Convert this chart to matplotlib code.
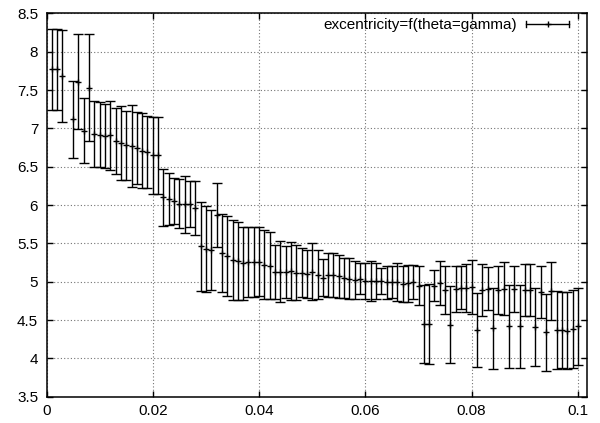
import matplotlib
matplotlib.use("Agg")
import matplotlib.pyplot as plt
from matplotlib.lines import Line2D
from matplotlib.legend_handler import HandlerBase
from matplotlib.container import ErrorbarContainer

# ---- data ----
x_vals = [0.001, 0.002, 0.003, 0.005, 0.006, 0.007, 0.008, 0.009, 0.010,
          0.011, 0.012, 0.013, 0.014, 0.015, 0.016, 0.017, 0.018, 0.019, 0.020,
          0.021, 0.022, 0.023, 0.024, 0.025, 0.026, 0.027, 0.028, 0.029, 0.030,
          0.031, 0.032, 0.033, 0.034, 0.035, 0.036, 0.037, 0.038, 0.039, 0.040,
          0.041, 0.042, 0.043, 0.044, 0.045, 0.046, 0.047, 0.048, 0.049, 0.050,
          0.051, 0.052, 0.053, 0.054, 0.055, 0.056, 0.057, 0.058, 0.059, 0.060,
          0.061, 0.062, 0.063, 0.064, 0.065, 0.066, 0.067, 0.068, 0.069, 0.070,
          0.071, 0.072, 0.073, 0.074, 0.075, 0.076, 0.077, 0.078, 0.079, 0.080,
          0.081, 0.082, 0.083, 0.084, 0.085, 0.086, 0.087, 0.088, 0.089, 0.090,
          0.091, 0.092, 0.093, 0.094, 0.095, 0.096, 0.097, 0.098, 0.099, 0.100]

excentricity = [7.77, 7.77, 7.68, 7.12, 7.61, 6.97, 7.53, 6.93, 6.92,
                6.90, 6.91, 6.83, 6.81, 6.78, 6.77, 6.74, 6.71, 6.69, 6.65,
                6.65, 6.10, 6.08, 6.05, 6.02, 6.01, 6.01, 5.96, 5.46, 5.43,
                5.41, 5.87, 5.37, 5.34, 5.28, 5.27, 5.24, 5.26, 5.26, 5.26,
                5.22, 5.21, 5.13, 5.13, 5.13, 5.14, 5.12, 5.12, 5.10, 5.13,
                5.09, 5.05, 5.09, 5.09, 5.07, 5.05, 5.04, 5.02, 5.04, 5.01,
                5.01, 5.01, 5.01, 4.99, 5.00, 5.00, 4.97, 4.98, 5.00, 4.95,
                4.45, 4.45, 4.95, 4.98, 4.89, 4.44, 4.90, 4.92, 4.92, 4.93,
                4.37, 4.89, 4.91, 4.39, 4.89, 4.91, 4.42, 4.90, 4.42, 4.89,
                4.89, 4.41, 4.87, 4.34, 4.88, 4.37, 4.37, 4.36, 4.38, 4.42]

yerr_vals = [0.53, 0.53, 0.60, 0.50, 0.62, 0.42, 0.70, 0.43, 0.42,
             0.42, 0.45, 0.43, 0.48, 0.45, 0.53, 0.47, 0.49, 0.47, 0.50,
             0.50, 0.37, 0.34, 0.30, 0.32, 0.37, 0.30, 0.35, 0.58, 0.56,
             0.52, 0.42, 0.51, 0.52, 0.52, 0.51, 0.48, 0.46, 0.46, 0.45,
             0.45, 0.44, 0.35, 0.40, 0.34, 0.38, 0.36, 0.32, 0.31, 0.37,
             0.32, 0.24, 0.29, 0.29, 0.28, 0.26, 0.27, 0.25, 0.20, 0.24,
             0.26, 0.24, 0.17, 0.22, 0.21, 0.25, 0.23, 0.24, 0.22, 0.25,
             0.51, 0.52, 0.20, 0.29, 0.31, 0.50, 0.30, 0.28, 0.31, 0.35,
             0.48, 0.34, 0.28, 0.53, 0.31, 0.35, 0.54, 0.30, 0.54, 0.34,
             0.34, 0.51, 0.34, 0.50, 0.38, 0.51, 0.49, 0.50, 0.51, 0.50]

series_label = "excentricity=f(theta=gamma)"
x_ticks = [0, 0.02, 0.04, 0.06, 0.08, 0.1]
x_ticklabels = ["0", "0.02", "0.04", "0.06", "0.08", "0.1"]
y_ticks = [3.5, 4, 4.5, 5, 5.5, 6, 6.5, 7, 7.5, 8, 8.5]
y_ticklabels = ["3.5", "4", "4.5", "5", "5.5", "6", "6.5", "7", "7.5", "8", "8.5"]

plt.rcParams['font.family'] = ['Liberation Sans', 'DejaVu Sans']
FS = 11


class GnuErrHandler(HandlerBase):
    """gnuplot-like key sample: |----+----|"""
    def create_artists(self, legend, orig_handle, xdescent, ydescent,
                       width, height, fontsize, trans):
        x0, x1 = -xdescent, -xdescent + width
        y = (height - ydescent) / 2
        c = height * 0.27
        kw = dict(color='k', lw=1.0, transform=trans)
        return [Line2D([x0, x1], [y, y], **kw),
                Line2D([x0, x0], [y - c, y + c], **kw),
                Line2D([x1, x1], [y - c, y + c], **kw),
                Line2D([(x0 + x1) / 2], [y], marker='+', ms=5, mew=1.0,
                       linestyle='none', color='k', transform=trans)]


fig = plt.figure(figsize=(6, 4.23), dpi=100)
W, H = 600, 423
left, right, top, bottom = 46.5, 587, 13.4, 396.7
ax = fig.add_axes([left / W, 1 - bottom / H, (right - left) / W, (bottom - top) / H])

eb = ax.errorbar(x_vals, excentricity, yerr=yerr_vals, fmt='+', color='k',
                 ecolor='k', elinewidth=1.0, capsize=3.4, capthick=1.0,
                 ms=5, mew=1.0, label=series_label)

ax.set_xlim(0, 0.1017)
ax.set_ylim(3.5, 8.5)
ax.set_xticks(x_ticks)
ax.set_xticklabels(x_ticklabels)
ax.set_yticks(y_ticks)
ax.set_yticklabels(y_ticklabels)
ax.tick_params(direction='in', length=4, width=1.0, top=True, right=True,
               labelsize=FS, colors='k')
ax.tick_params(axis='x', pad=5)
ax.tick_params(axis='y', pad=6)
ax.grid(True, color='0.45', linestyle=(0, (1, 2)), linewidth=0.8)
ax.set_axisbelow(True)
for s in ax.spines.values():
    s.set_linewidth(1.1)
    s.set_color('k')

ax.legend(handles=[eb], labels=[series_label],
          handler_map={ErrorbarContainer: GnuErrHandler()},
          loc='center right', bbox_to_anchor=(569 / W, 1 - 25 / H),
          bbox_transform=fig.transFigure, frameon=False, markerfirst=False,
          borderpad=0, borderaxespad=0, handlelength=2.8, handletextpad=0.6,
          fontsize=FS)

fig.savefig("out.png", dpi=100)
